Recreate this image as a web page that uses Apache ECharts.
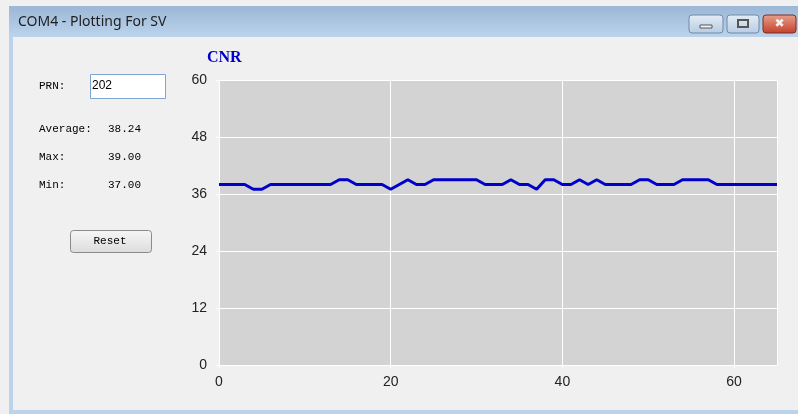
<!DOCTYPE html>
<html>
<head>
<meta charset="utf-8">
<script src="https://cdn.jsdelivr.net/npm/echarts@6/dist/echarts.min.js"></script>
<style>html,body{margin:0;padding:0;background:#f0f0f0;}#c{width:798px;height:414px;}</style>
</head>
<body>
<div id="c"></div>
<script>
// Sample index (x) and CNR values (y)
var cnrValues = [38,38,38,38,37,37,38,38,38,38,38,38,38,38,39,39,38,38,38,38,37,38,39,38,38,39,39,39,39,39,39,38,38,38,39,38,38,37,39,39,38,38,39,38,39,38,38,38,38,39,39,38,38,38,39,39,39,39,38,38,38,38,38,38,38,38];
var xTicks = [0, 20, 40, 60];
var yTicks = [0, 12, 24, 36, 48, 60];
var windowTitle = 'COM4 - Plotting For SV';
var chartTitle = 'CNR';
var prnValue = '202';
var statLabels = ['Average:', 'Max:', 'Min:'];
var statValues = ['38.24', '39.00', '37.00'];

var seriesData = cnrValues.map(function (v, i) { return [i, v]; });

var chart = echarts.init(document.getElementById('c'));
var mono = '"Liberation Mono", "DejaVu Sans Mono", monospace';
var graphics = [
  // title bar
  { type: 'rect', shape: { x: 9, y: 6, width: 789, height: 31 }, style: { fill: new echarts.graphic.LinearGradient(0,0,0,1,[{offset:0,color:'#9bb7d6'},{offset:1,color:'#bcd3ec'}]) }, z: 10 },
  { type: 'rect', shape: { x: 9, y: 37, width: 4, height: 377 }, style: { fill: '#bcd3ec' }, z: 10 },
  { type: 'rect', shape: { x: 9, y: 410, width: 789, height: 4 }, style: { fill: '#bcd3ec' }, z: 10 },
  { type: 'text', style: { text: windowTitle, x: 18, y: 22, fill: '#1e1e1e', font: '14px "Noto Sans", sans-serif', textVerticalAlign: 'middle' }, z: 11 },
  // window buttons
  { type: 'rect', shape: { x: 689, y: 15, width: 34, height: 18, r: 3 }, style: { fill: new echarts.graphic.LinearGradient(0,0,0,1,[{offset:0,color:'#e4edf7'},{offset:1,color:'#b6cbe3'}]), stroke: '#7089a8', lineWidth: 1 }, z: 11 },
  { type: 'rect', shape: { x: 700, y: 25, width: 12, height: 3 }, style: { fill: '#f4f4f4', stroke: '#555', lineWidth: 1 }, z: 12 },
  { type: 'rect', shape: { x: 727, y: 15, width: 32, height: 18, r: 3 }, style: { fill: new echarts.graphic.LinearGradient(0,0,0,1,[{offset:0,color:'#e4edf7'},{offset:1,color:'#b6cbe3'}]), stroke: '#7089a8', lineWidth: 1 }, z: 11 },
  { type: 'rect', shape: { x: 738, y: 20, width: 10, height: 7 }, style: { fill: 'none', stroke: '#555', lineWidth: 2 }, z: 12 },
  { type: 'rect', shape: { x: 763, y: 15, width: 33, height: 18, r: 3 }, style: { fill: new echarts.graphic.LinearGradient(0,0,0,1,[{offset:0,color:'#e8a08c'},{offset:1,color:'#c4402a'}]), stroke: '#7d2d22', lineWidth: 1 }, z: 11 },
  { type: 'text', style: { text: '\u2716', x: 779.5, y: 24, fill: '#f2f2f2', font: 'bold 12px "DejaVu Sans"', textAlign: 'center', textVerticalAlign: 'middle' }, z: 12 },
  // left panel
  { type: 'text', style: { text: 'PRN:', x: 39, y: 86, fill: '#000', font: '11px ' + mono, textVerticalAlign: 'middle' }, z: 11 },
  { type: 'rect', shape: { x: 90.5, y: 74.5, width: 75, height: 24 }, style: { fill: '#ffffff', stroke: '#7ea6d4', lineWidth: 1 }, z: 11 },
  { type: 'text', style: { text: prnValue, x: 92, y: 86, fill: '#000', font: '12px "Liberation Sans", sans-serif', textVerticalAlign: 'middle' }, z: 12 },
  // reset button
  { type: 'rect', shape: { x: 70.5, y: 230.5, width: 81, height: 22, r: 3 }, style: { fill: new echarts.graphic.LinearGradient(0,0,0,1,[{offset:0,color:'#f6f6f6'},{offset:1,color:'#dcdcdc'}]), stroke: '#8a8a8a', lineWidth: 1 }, z: 11 },
  { type: 'text', style: { text: 'Reset', x: 110, y: 241.5, fill: '#000', font: '11px ' + mono, textAlign: 'center', textVerticalAlign: 'middle' }, z: 12 }
];
var statY = [129, 157, 185];
statLabels.forEach(function (lab, i) {
  graphics.push({ type: 'text', style: { text: lab, x: 39, y: statY[i], fill: '#000', font: '11px ' + mono, textVerticalAlign: 'middle' }, z: 11 });
  graphics.push({ type: 'text', style: { text: statValues[i], x: 108, y: statY[i], fill: '#000', font: '11px ' + mono, textVerticalAlign: 'middle' }, z: 11 });
});

chart.setOption({
  animation: false,
  backgroundColor: '#f0f0f0',
  title: {
    text: chartTitle, left: 202, top: 45,
    textStyle: { color: '#0000c8', fontSize: 16, fontWeight: 'bold', fontFamily: '"Liberation Serif", "DejaVu Serif", serif' }
  },
  grid: { left: 219, top: 80, right: 21, bottom: 49, show: true, backgroundColor: '#d3d3d3', borderWidth: 0 },
  xAxis: {
    type: 'value', min: 0, max: 65, interval: 20,
    axisLine: { show: false },
    axisTick: { show: true, length: 3, lineStyle: { color: '#ffffff' } },
    axisLabel: { color: '#222', fontSize: 14, fontFamily: '"Liberation Sans", Arial, sans-serif', margin: 10, showMaxLabel: false,
      formatter: function (v) { return xTicks.indexOf(v) >= 0 ? String(v) : ''; } },
    splitLine: { show: true, lineStyle: { color: '#ffffff', width: 1 } }
  },
  yAxis: {
    type: 'value', min: 0, max: 60, interval: 12,
    axisLine: { show: false },
    axisTick: { show: true, length: 3, lineStyle: { color: '#ffffff' } },
    axisLabel: { color: '#222', fontSize: 14, fontFamily: '"Liberation Sans", Arial, sans-serif', margin: 12,
      formatter: function (v) { return yTicks.indexOf(v) >= 0 ? String(v) : ''; } },
    splitLine: { show: true, lineStyle: { color: '#ffffff', width: 1 } }
  },
  series: [{
    type: 'line', data: seriesData, showSymbol: false, symbol: 'none',
    lineStyle: { color: '#0000cc', width: 3 }, z: 3
  }],
  graphic: graphics
});
</script>
</body>
</html>
